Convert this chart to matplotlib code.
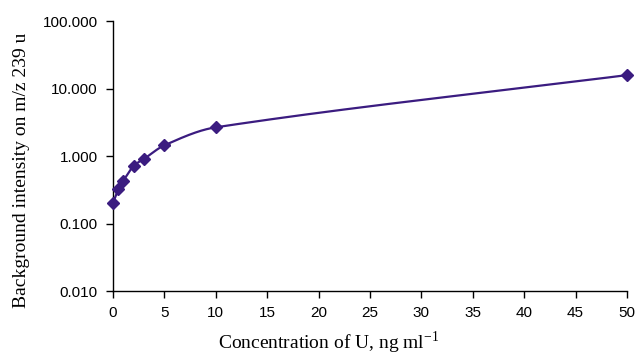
import numpy as np
import matplotlib
matplotlib.use("Agg")
import matplotlib.pyplot as plt
from matplotlib.ticker import FixedLocator, FuncFormatter

conc = [0, 0.5, 1, 2, 3, 5, 10, 50]
intensity = [0.20, 0.32, 0.43, 0.71, 0.90, 1.44, 2.66, 15.8]
xticks = list(range(0, 55, 5))
yticks = [0.01, 0.1, 1, 10, 100]

color = "#3b1c80"

fig = plt.figure(figsize=(6.37, 3.59), dpi=100)
ax = fig.add_axes([0.1774, 0.1894, 0.8069, 0.7521])


def hermite(x, y, xn):
    x = np.asarray(x, float)
    y = np.asarray(y, float)
    h = np.diff(x)
    d = np.diff(y) / h
    n = len(x)
    m = np.zeros(n)
    for k in range(1, n - 1):
        m[k] = (h[k - 1] * d[k - 1] + h[k] * d[k]) / (h[k - 1] + h[k])
    m[0] = d[0]
    m[-1] = d[-1]
    out = np.empty_like(xn)
    idx = np.clip(np.searchsorted(x, xn) - 1, 0, n - 2)
    for j, (xv, k) in enumerate(zip(xn, idx)):
        t = (xv - x[k]) / h[k]
        h00 = 2 * t**3 - 3 * t**2 + 1
        h10 = t**3 - 2 * t**2 + t
        h01 = -2 * t**3 + 3 * t**2
        h11 = t**3 - t**2
        out[j] = h00 * y[k] + h10 * h[k] * m[k] + h01 * y[k + 1] + h11 * h[k] * m[k + 1]
    return out


xn = np.linspace(conc[0], conc[-1], 800)
yn = 10 ** hermite(conc, np.log10(intensity), xn)
ax.plot(xn, yn, color=color, lw=1.6, zorder=2)

ax.errorbar(conc, intensity, xerr=[np.zeros(len(conc)), np.full(len(conc), 0.5)],
            fmt="none", ecolor="black", elinewidth=1.8, capsize=0, zorder=1)
ax.plot(conc, intensity, linestyle="none", marker="D", ms=6.3, color=color,
        mec=color, zorder=3, clip_on=False)

ax.set_yscale("log")
ax.set_xlim(0, 50)
ax.set_ylim(0.01, 100)
ax.xaxis.set_major_locator(FixedLocator(xticks))
ax.yaxis.set_major_locator(FixedLocator(yticks))
ax.yaxis.set_minor_locator(FixedLocator([]))
ax.yaxis.set_major_formatter(FuncFormatter(lambda v, p: f"{v:.3f}"))

for s in ["top", "right"]:
    ax.spines[s].set_visible(False)
for s in ["left", "bottom"]:
    ax.spines[s].set_linewidth(1.0)

ax.tick_params(axis="both", direction="out", length=5, width=1.0, labelsize=11,
               pad=6)
for lab in ax.get_xticklabels() + ax.get_yticklabels():
    lab.set_fontfamily("Liberation Sans")

ax.set_xlabel("Concentration of U, ng ml$^{\\mathregular{-1}}$",
              fontfamily="Liberation Serif", fontsize=14)
ax.set_ylabel("Background intensity on m/z 239 u",
              fontfamily="Liberation Serif", fontsize=14)
ax.xaxis.set_label_coords((329 - 113) / 514, -(343 - 291) / 270)
ax.yaxis.set_label_coords(-(113 - 21) / 514, (291 - 170) / 270)
ax.xaxis.label.set_va("center")
ax.yaxis.label.set_va("center")

fig.savefig("out.png", dpi=100)
